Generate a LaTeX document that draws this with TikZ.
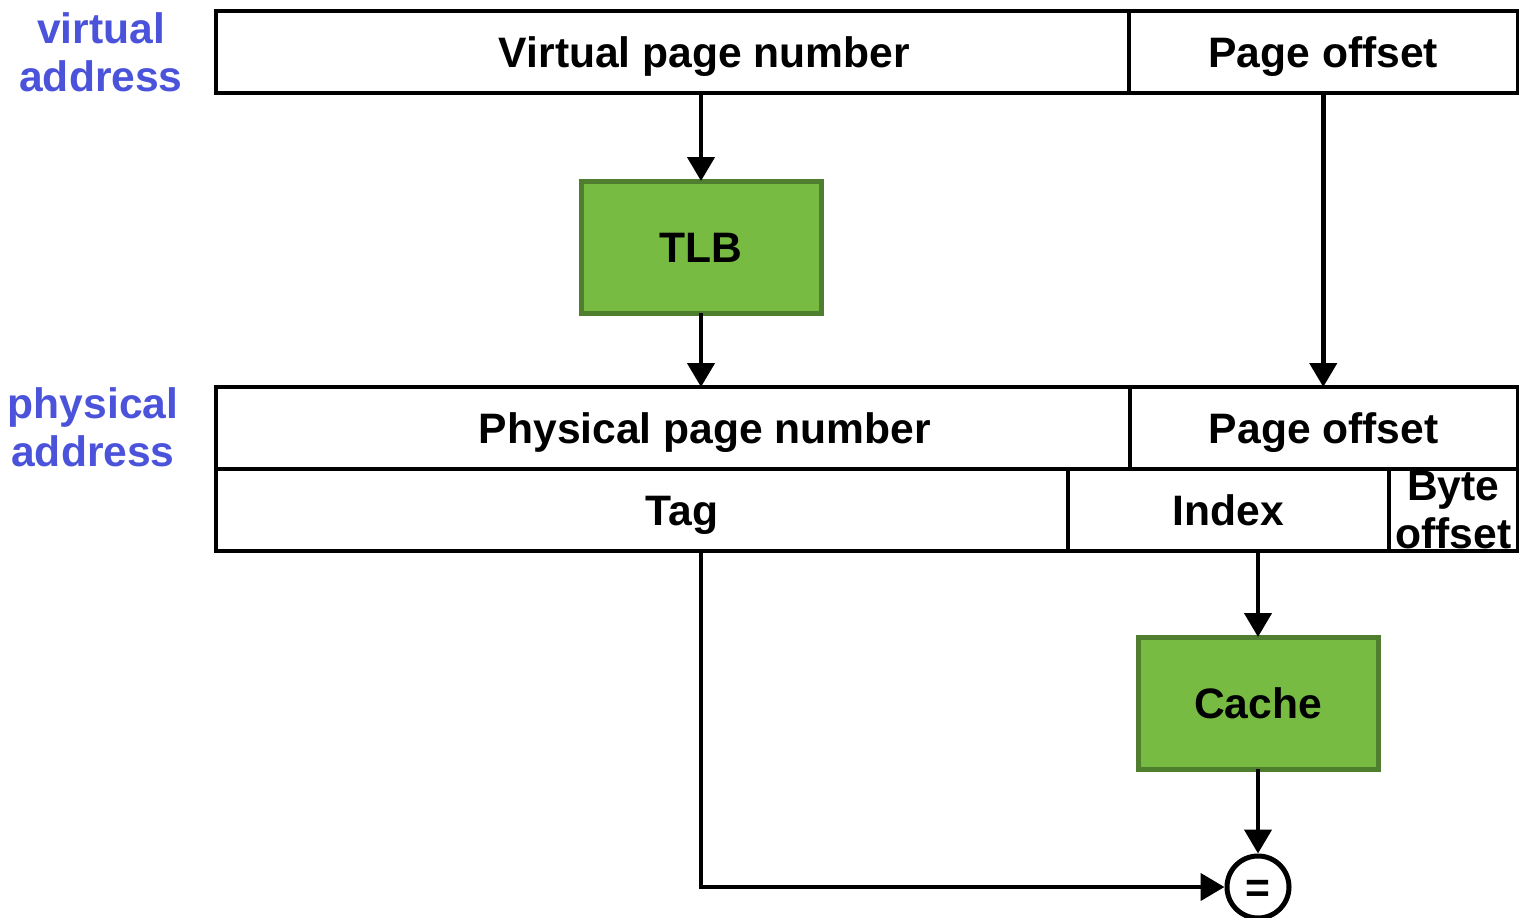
\documentclass[tikz,border=0pt]{standalone}
\usepackage{fontspec}
\setmainfont{Liberation Sans}
\usepackage{xcolor}
\usepackage{tikz}
\usetikzlibrary{calc,arrows.meta,positioning}
\definecolor{addrblue}{HTML}{4B53DB}
\definecolor{boxgreen}{HTML}{78BB42}
\definecolor{boxedge}{HTML}{4F7F2E}

\tikzset{
  field/.style={draw, line width=3.5pt, anchor=north west, inner sep=0pt,
    outer sep=0pt, minimum height=82pt},
  fieldtext/.style={text height=30pt, text depth=0pt, inner sep=0pt},
  unit/.style={draw=boxedge, fill=boxgreen, line width=5pt, anchor=north west,
    minimum width=240pt, minimum height=132pt, inner sep=0pt, outer sep=0pt,
    text height=30pt, text depth=0pt},
  cmp/.style={circle, draw, line width=5pt, minimum size=62pt, inner sep=0pt,
    text height=30pt, text depth=0pt},
  addr/.style={text=addrblue, align=center, inner sep=0pt},
  arr/.style={line width=4.5pt, -{Triangle[length=24pt,width=27pt]}}
}

\begin{document}
\begin{tikzpicture}[x=1pt,y=-1pt,font=\fontsize{42.6}{48}\selectfont\bfseries]
  \useasboundingbox (0,0) rectangle (1519,918);

  % Virtual address fields
  \node[field, minimum width=913pt,
    label={[fieldtext,xshift=32pt]center:Virtual page number}] (vpn) at (216,11) {};
  \node[field, minimum width=388.5pt,
    label={[fieldtext]center:Page offset}] (vpo) at (1129,11) {};

  % Physical address fields
  \node[field, minimum width=914pt,
    label={[fieldtext,xshift=32pt]center:Physical page number}] (ppn) at (216,387) {};
  \node[field, minimum width=387.5pt,
    label={[fieldtext]center:Page offset}] (ppo) at (1130,387) {};

  % Cache view of the physical address
  \node[field, minimum width=852pt,
    label={[fieldtext,xshift=40pt]center:Tag}] (tag) at (216,469) {};
  \node[field, minimum width=321pt,
    label={[fieldtext]center:Index}] (idx) at (1068,469) {};
  \node[field, minimum width=128.5pt,
    label={[align=center,inner sep=0pt]center:Byte\\offset}] (boff) at (1389,469) {};

  % Side titles
  \node[addr] (va) at (101,52) {virtual\\address};
  \node[addr] (pa) at (93,427) {physical\\address};

  % TLB, cache and compare
  \node[unit] (tlb) at (581,181) {TLB};
  \node[unit] (cache) at (1138,637) {Cache};
  \node[cmp] (eq) at (1258,887) {=};

  % Connectors
  \draw[arr] (vpn.south -| tlb.north) -- (tlb.north);
  \draw[arr] (tlb.south) -- (tlb.south |- ppn.north);
  \draw[arr] (vpo.south) -- (vpo.south |- ppo.north);
  \draw[arr] (idx.south -| cache.north) -- (cache.north);
  \draw[arr] (cache.south) -- (eq.north);
  \draw[arr] (tag.south -| tlb.south) |- (eq.west);
\end{tikzpicture}
\end{document}
